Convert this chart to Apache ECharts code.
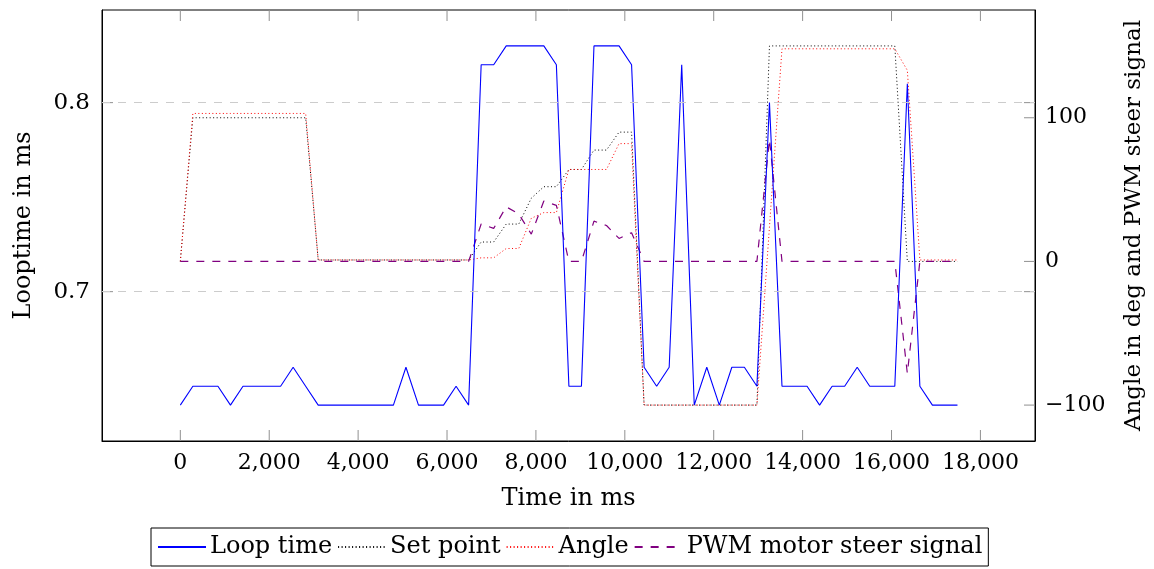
<!DOCTYPE html>
<html>
<head>
<meta charset="utf-8">
<script src="https://cdn.jsdelivr.net/npm/echarts@6/dist/echarts.min.js"></script>
<style>
  html, body { margin: 0; padding: 0; background: #fff; }
  #chart { width: 1154px; height: 569px; }
</style>
</head>
<body>
<div id="chart"></div>
<script>
// time stamps in ms
const times = [0, 282, 564, 846, 1128, 1410, 1692, 1974, 2256, 2538,
  2820, 3102, 3384, 3666, 3948, 4230, 4512, 4794, 5076, 5358,
  5640, 5922, 6204, 6486, 6768, 7050, 7332, 7614, 7896, 8178,
  8460, 8742, 9024, 9306, 9588, 9870, 10152, 10434, 10716, 10998,
  11280, 11562, 11844, 12126, 12408, 12690, 12972, 13254, 13536, 13818,
  14100, 14382, 14664, 14946, 15228, 15510, 15792, 16074, 16356, 16638,
  16920, 17202, 17484]

// loop time in ms (left axis)
const loopTime = [0.64, 0.65, 0.65, 0.65, 0.64, 0.65, 0.65, 0.65, 0.65, 0.66,
  0.65, 0.64, 0.64, 0.64, 0.64, 0.64, 0.64, 0.64, 0.66, 0.64,
  0.64, 0.64, 0.65, 0.64, 0.82, 0.82, 0.83, 0.83, 0.83, 0.83,
  0.82, 0.65, 0.65, 0.83, 0.83, 0.83, 0.82, 0.66, 0.65, 0.66,
  0.82, 0.64, 0.66, 0.64, 0.66, 0.66, 0.65, 0.80, 0.65, 0.65,
  0.65, 0.64, 0.65, 0.65, 0.66, 0.65, 0.65, 0.65, 0.81, 0.65,
  0.64, 0.64, 0.64]

// set point in deg (right axis)
const setPoint = [0, 100, 100, 100, 100, 100, 100, 100, 100, 100,
  100, 1, 1, 1, 1, 1, 1, 1, 1, 1,
  1, 1, 1, 1, 13.5, 13.5, 26, 26, 44, 52,
  52, 64, 64, 77.5, 77.5, 90, 90, -100, -100, -100,
  -100, -100, -100, -100, -100, -100, -100, 150, 150, 150,
  150, 150, 150, 150, 150, 150, 150, 150, 0, 0,
  0, 0, 0]

// measured angle in deg (right axis)
const angle = [0, 103, 103, 103, 103, 103, 103, 103, 103, 103,
  103, 1, 1, 1, 1, 1, 1, 1, 1, 1,
  1, 1, 1, 1, 2.5, 2.5, 9, 9, 30, 34,
  34, 64, 64, 64, 64, 82, 82, -100, -100, -100,
  -100, -100, -100, -100, -100, -100, -100, 24, 148, 148,
  148, 148, 148, 148, 148, 148, 148, 148, 133, 1,
  1, 1, 1]

// pwm motor steer signal (right axis)
const pwm = [0, 0, 0, 0, 0, 0, 0, 0, 0, 0,
  0, 0, 0, 0, 0, 0, 0, 0, 0, 0,
  0, 0, 0, 0, 26, 23, 38, 33, 19, 42,
  39, 0, 0, 28, 25, 16, 20, 0, 0, 0,
  0, 0, 0, 0, 0, 0, 0, 85, 0, 0,
  0, 0, 0, 0, 0, 0, 0, 0, -78, 0,
  0, 0, 0]

const xTicks = [0, 2000, 4000, 6000, 8000, 10000, 12000, 14000, 16000, 18000]
const leftTicks = [0.7, 0.8]
const rightTicks = [-100, 0, 100]

const X_MIN = -1762, X_MAX = 19228
const L_MIN = 0.621, L_MAX = 0.849
const R_MIN = -125, R_MAX = 175

const FONT = 'DejaVu Serif'
const pair = arr => times.map((t, i) => [t, arr[i]])
const fmtThousands = v => String(v).replace(/\B(?=(\d{3})+(?!\d))/g, ',')

const frameLine = { show: true, onZero: false, lineStyle: { color: '#000', width: 1 } }

// plot box size in px (from the grid settings below) -> inward tick length in axis units
const BOX_W = 1154 - 102 - 119, BOX_H = 569 - 10 - 128, TICK = 11
const dX = TICK * (X_MAX - X_MIN) / BOX_W
const dL = TICK * (L_MAX - L_MIN) / BOX_H
const dR = TICK * (R_MAX - R_MIN) / BOX_H

// each tick is a tiny two-point line series, drawn by the library on its own axes
const tickSeries = []
const addTick = (yAxisIndex, a, b) => tickSeries.push({
  type: 'line',
  yAxisIndex,
  data: [a, b],
  symbol: 'none',
  silent: true,
  clip: false,
  z: 1,
  lineStyle: { color: '#909090', width: 1 },
  tooltip: { show: false }
})
xTicks.forEach(v => {
  addTick(0, [v, L_MIN], [v, L_MIN + dL])
  addTick(0, [v, L_MAX], [v, L_MAX - dL])
})
leftTicks.forEach(v => {
  addTick(0, [X_MIN, v], [X_MIN + dX, v])
  addTick(0, [X_MAX, v], [X_MAX - dX, v])
})
rightTicks.forEach(v => addTick(1, [X_MAX, v], [X_MAX - dX, v]))

const chart = echarts.init(document.getElementById('chart'))
chart.setOption({
  animation: false,
  backgroundColor: '#fff',
  grid: {
    left: 102, top: 10, right: 119, bottom: 128,
    show: true, borderColor: '#000', borderWidth: 1,
    outerBoundsMode: 'none'
  },
  legend: {
    data: ['Loop time', 'Set point', 'Angle', 'PWM motor steer signal'],
    left: 151,
    top: 528,
    itemWidth: 48,
    itemHeight: 14,
    itemGap: 5,
    padding: [7, 6, 7, 6],
    borderColor: '#000',
    borderWidth: 1,
    borderRadius: 0,
    itemStyle: { opacity: 0 },
    textStyle: { fontFamily: FONT, fontSize: 24, color: '#000', padding: [0, 0, 0, -1] }
  },
  xAxis: [
    {
      type: 'value',
      min: X_MIN, max: X_MAX,
      name: 'Time in ms',
      nameLocation: 'middle',
      nameGap: 46,
      nameTextStyle: { fontFamily: FONT, fontSize: 24, color: '#000' },
      axisLine: frameLine,
      axisTick: { show: false },
      axisLabel: {
        customValues: xTicks,
        formatter: v => fmtThousands(v),
        fontFamily: FONT, fontSize: 22, color: '#000', margin: 11
      },
      splitLine: { show: false }
    }
  ],
  yAxis: [
    {
      type: 'value',
      position: 'left',
      min: L_MIN, max: L_MAX,
      name: 'Looptime in ms',
      nameLocation: 'middle',
      nameRotate: 90,
      nameGap: 66,
      nameTextStyle: { fontFamily: FONT, fontSize: 24, color: '#000' },
      axisLine: frameLine,
      axisTick: { show: false },
      axisLabel: {
        customValues: leftTicks,
        formatter: v => v.toFixed(1),
        fontFamily: FONT, fontSize: 23, color: '#000', margin: 12
      },
      splitLine: { show: false }
    },
    {
      type: 'value',
      position: 'right',
      min: R_MIN, max: R_MAX,
      name: 'Angle in deg and PWM steer signal',
      nameLocation: 'middle',
      nameRotate: 90,
      nameGap: 88,
      nameTextStyle: { fontFamily: FONT, fontSize: 23, color: '#000' },
      axisLine: frameLine,
      axisTick: { show: false },
      axisLabel: {
        customValues: rightTicks,
        formatter: v => (v < 0 ? '\u2212' + Math.abs(v) : String(v)),
        fontFamily: FONT, fontSize: 22, color: '#000', margin: 10
      },
      splitLine: { show: false }
    }
  ],
  series: [
    {
      // grid lines
      name: 'grid',
      type: 'line',
      yAxisIndex: 0,
      data: [],
      silent: true,
      markLine: {
        silent: true,
        symbol: 'none',
        label: { show: false },
        lineStyle: { color: '#cccccc', type: [8, 8], width: 1 },
        data: leftTicks.map(v => ({ yAxis: v }))
      }
    },
    ...tickSeries,
    {
      name: 'Set point',
      type: 'line',
      yAxisIndex: 1,
      data: pair(setPoint),
      symbol: 'none',
      lineStyle: { color: '#000', width: 1, type: [1, 2.5] },
      itemStyle: { color: '#000' }
    },
    {
      name: 'Angle',
      type: 'line',
      yAxisIndex: 1,
      data: pair(angle),
      symbol: 'none',
      lineStyle: { color: '#ff0000', width: 1, type: [1, 2.5] },
      itemStyle: { color: '#ff0000' }
    },
    {
      name: 'PWM motor steer signal',
      type: 'line',
      yAxisIndex: 1,
      data: pair(pwm),
      symbol: 'none',
      lineStyle: { color: '#800080', width: 1.2, type: [8, 8] },
      itemStyle: { color: '#800080' }
    },
    {
      name: 'Loop time',
      type: 'line',
      yAxisIndex: 0,
      data: pair(loopTime),
      symbol: 'none',
      lineStyle: { color: '#0000ff', width: 1.1 },
      itemStyle: { color: '#0000ff' }
    }
  ]
})
</script>
</body>
</html>
